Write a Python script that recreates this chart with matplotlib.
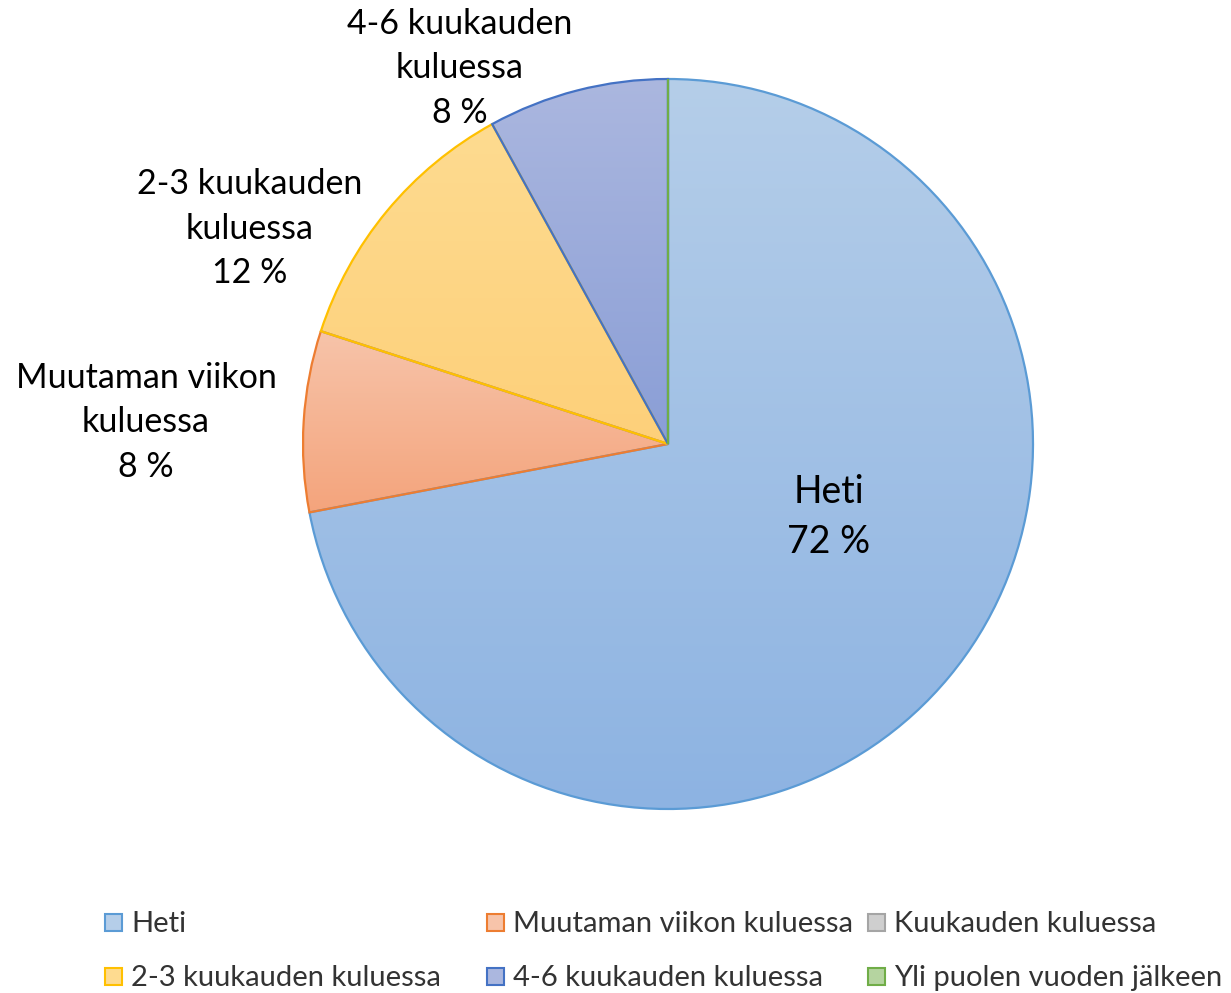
import numpy as np
import matplotlib
matplotlib.use("Agg")
import matplotlib.pyplot as plt
from matplotlib.colors import LinearSegmentedColormap
from matplotlib.patches import Rectangle

plt.rcParams['font.family'] = ['Lato', 'DejaVu Sans']

# data
categories = ["Heti", "Muutaman viikon kuluessa", "Kuukauden kuluessa",
              "2-3 kuukauden kuluessa", "4-6 kuukauden kuluessa",
              "Yli puolen vuoden jälkeen"]
values = [72, 8, 0, 12, 8, 0]
label_text = ["Heti", "Muutaman viikon\nkuluessa", None,
              "2-3 kuukauden\nkuluessa", "4-6 kuukauden\nkuluessa", None]

# styles
light = ["#b5cee9", "#f7c4aa", "#cfcfcf", "#fedb90", "#abb7df", "#b5d4a0"]
dark = ["#8db3e2", "#f4a47c", "#a9a9a9", "#fdd07a", "#8a9ed6", "#8cc06b"]
edges = ["#5b9bd5", "#ed7d31", "#a5a5a5", "#ffc000", "#4472c4", "#70ad47"]
# label anchors (unit-radius coords)
label_pos = [(0.44, -0.20), (-1.43, 0.06), None, (-1.145, 0.59), (-0.57, 1.03), None]
label_size = [27, 24.5, None, 24.5, 24.5, None]

W, H = 1231, 993
cx, cy, R = 668, 444, 365

fig = plt.figure(figsize=(W / 100, H / 100), dpi=100)
ax = fig.add_axes([0, 0, 1, 1])

wedges, _ = ax.pie(values, startangle=90, counterclock=False, radius=1,
                   wedgeprops=dict(linewidth=1.6, fill=False))

grad = np.linspace(0, 1, 256).reshape(-1, 1)
for i, w in enumerate(wedges):
    w.set_edgecolor(edges[i])
    w.set_zorder(3)
    if values[i] == 0:
        continue
    ext = w.get_path().get_extents()
    cmap = LinearSegmentedColormap.from_list(f"g{i}", [light[i], dark[i]])
    im = ax.imshow(grad, cmap=cmap, aspect='auto', origin='upper',
                   extent=(ext.x0, ext.x1, ext.y0, ext.y1), zorder=2,
                   interpolation='bilinear')
    im.set_clip_path(w)
ax.set_xlim(-cx / R, (W - cx) / R)
ax.set_ylim(-(H - cy) / R, cy / R)
ax.set_aspect('equal')
ax.axis('off')

# data labels
for i, v in enumerate(values):
    if label_pos[i] is None:
        continue
    x, y = label_pos[i]
    ax.text(x, y, f"{label_text[i]}\n{v} %", ha='center', va='center',
            fontsize=label_size[i], color='black', linespacing=1.48, zorder=5)

# legend, Office-style three columns
col_x = [105, 487, 868]
row_y = [922, 976]
for k, name in enumerate(categories):
    col, row = k % 3, k // 3
    x0, y0 = col_x[col], row_y[row]
    fig.patches.append(Rectangle((x0 / W, 1 - (y0 + 9) / H), 17 / W, 17 / H,
                                 transform=fig.transFigure, facecolor=light[k],
                                 edgecolor=edges[k], linewidth=1.5))
    fig.text((x0 + 26) / W, 1 - (y0 + 2) / H, name, ha='left', va='center',
             fontsize=21, color='#333333')

fig.savefig("out.png", dpi=100)
